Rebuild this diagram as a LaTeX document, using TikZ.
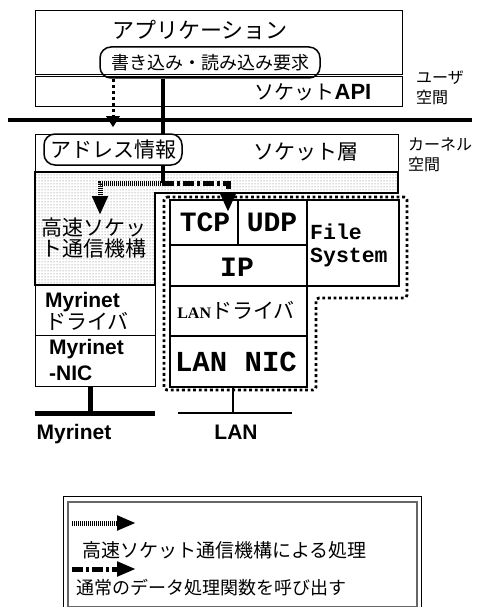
\documentclass[tikz,border=0pt]{standalone}
\usepackage{fontspec}
\setmainfont{Liberation Serif}
\newfontfamily\jp{Noto Sans CJK JP}
\newfontfamily\lsans{Liberation Sans}
\newfontfamily\lmono{Liberation Mono}
\usetikzlibrary{arrows.meta,patterns}
\newcommand\myfs[1]{\fontsize{#1}{#1}\selectfont}
\begin{document}
\begin{tikzpicture}[x=1pt,y=-1pt,
  box/.style={draw, line width=1.2pt, inner sep=0pt, anchor=north west, fill=white},
  sbox/.style={draw, line width=1.8pt, inner sep=0pt, anchor=north west},
  rbox/.style={draw, line width=1.5pt, rounded corners=11pt, inner sep=0pt},
  jtext/.style={font=\jp\myfs{21}, inner sep=0pt},
  sqarrow/.style={line width=3pt, dash pattern=on 3pt off 3pt, -{Triangle[length=11pt,width=13pt]}},
  tickarrow/.style={line width=5pt, dash pattern=on 1pt off 1pt, -{Triangle[length=19pt,width=15pt]}},
  dcarrow/.style={line width=5pt, dash pattern=on 11pt off 3pt on 3pt off 3pt, -{Triangle[length=19pt,width=15pt]}},
]
\useasboundingbox (0,0) rectangle (479,607);

% user space
\node[box, minimum width=367pt, minimum height=96pt] (app) at (35,10) {};
\node[jtext, font=\jp\myfs{22}] (apptxt) at (200,30) {アプリケーション};
\draw[line width=0.9pt, double distance=1.8pt] (app.west |- 0,75.5) -- (app.east |- 0,75.5);
\node[jtext, font=\jp\myfs{20}] (api) at (313,92) {ソケット{\lsans\bfseries\myfs{22}API}};
\node[rbox, minimum width=220pt, minimum height=31pt, font=\jp\myfs{18}] (req) at (210,62.5) {書き込み・読み込み要求};
\node[jtext, align=left, anchor=west, font=\jp\fontsize{16}{20}\selectfont] (user) at (416,88) {ユーザ\\空間};

% separator
\coordinate (sepL) at (8,120);
\coordinate (sepR) at (472,120);
\draw[line width=4pt] (sepL) -- (sepR);

% kernel
\node[box, minimum width=363pt, minimum height=38pt] (kern) at (35,134) {};
\node[jtext] (socklayer) at (306,152) {ソケット層};
\node[jtext, align=left, anchor=west, font=\jp\fontsize{16}{20}\selectfont] (kspace) at (408,155) {カーネル\\空間};

\draw[line width=1.2pt, pattern=dots, pattern color=black!60]
  (35,172) -- (398,172) -- (398,193) -- (155,193) -- (155,285) -- (35,285) -- cycle;
\node[jtext, align=center] (fast) at (94,238) {高速ソケッ\\ト通信機構};

% main call line
\coordinate (split) at (163,183);
\draw[line width=4pt] (req.south -| split) -- (split);
\node[rbox, fill=white, minimum width=138pt, minimum height=31pt, font=\jp\myfs{21}] (addr) at (113,149.5) {アドレス情報};

% right stack
\node[sbox, minimum width=68pt, minimum height=45pt] (tcp) at (169,199) {};
\node[sbox, minimum width=69pt, minimum height=45pt] (udp) at (237,199) {};
\node[sbox, minimum width=92pt, minimum height=86pt] (fs) at (306,199) {};
\node[sbox, minimum width=137pt, minimum height=41pt] (ip) at (169,244) {};
\node[sbox, minimum width=137pt, minimum height=50pt] (lan) at (169,285) {};
\node[sbox, minimum width=137pt, minimum height=51pt] (nic) at (169,335) {};
\node[inner sep=0pt, font=\lmono\bfseries\myfs{28}] (tcpt) at (205,222) {TCP};
\node[inner sep=0pt, font=\lmono\bfseries\myfs{28}] (udpt) at (272,222) {UDP};
\node[inner sep=0pt, font=\lmono\bfseries\myfs{28}] (ipt) at (237,267) {IP};
\node[inner sep=0pt, font=\lmono\bfseries\fontsize{21.5}{23}\selectfont, align=left, anchor=west] (fst) at (310,245) {File\\System};
\node[inner sep=0pt] (lant) at (236,310) {{\bfseries\myfs{16}LAN}{\jp\myfs{21}ドライバ}};
\node[inner sep=0pt, font=\lmono\bfseries\myfs{29}] (nict) at (236,362) {LAN NIC};

% myrinet column
\node[sbox, line width=1.4pt, minimum width=120pt, minimum height=50pt] (mdrv) at (35,285) {};
\node[sbox, line width=1.4pt, minimum width=120pt, minimum height=51pt] (mnic) at (35,335) {};
\node[inner sep=0pt, align=left, anchor=west, font=\fontsize{21}{22}\selectfont] (mdrvt) at (45,311)
  {{\lsans\bfseries Myrinet}\\{\jp ドライバ}};
\node[inner sep=0pt, align=left, anchor=west, font=\lsans\bfseries\fontsize{21}{26}\selectfont] (mnict) at (49,360)
  {Myrinet\\-NIC};

% dotted outline of normal path
\draw[line width=2.8pt, dash pattern=on 2.8pt off 2.8pt, rounded corners=3pt]
  (164,197) -- (407,197) -- (407,298) -- (316,298) -- (316,390) -- (164,390) -- cycle;

% networks
\coordinate (mbus) at (90,413);
\coordinate (mbusL) at (35,413);
\coordinate (mbusR) at (155,413);
\draw[line width=5pt] (mnic.south -| mbus) -- (mbus);
\draw[line width=5pt] (mbusL) -- (mbusR);
\coordinate (lbus) at (233,413);
\coordinate (lbusL) at (178,413);
\coordinate (lbusR) at (292,413);
\draw[line width=2.5pt] (nic.south -| lbus) -- (lbus);
\draw[line width=2.5pt] (lbusL) -- (lbusR);
\node[inner sep=0pt, font=\lsans\bfseries\myfs{21}] (mlabel) at (74,434) {Myrinet};
\node[inner sep=0pt, font=\lsans\bfseries\myfs{21}] (llabel) at (236,432) {LAN};

% arrows
\draw[sqarrow] (req.south -| addr.north) -- ([yshift=6pt]addr.north);
\coordinate (fastin) at (100,215);
\coordinate (tcpin) at (228,212);
\draw[tickarrow] (split) -| (fastin);
\draw[dcarrow] (split) -| (tcpin);

% legend
\node[draw, line width=0.8pt, inner sep=0pt, anchor=north west, minimum width=358pt, minimum height=116pt] (legout) at (63,496) {};
\node[draw=black!60, line width=1.5pt, inner sep=0pt, anchor=north west, minimum width=349pt, minimum height=105pt] (leg) at (67,501) {};
\coordinate (l1s) at (72,523);
\coordinate (l1e) at (136,523);
\coordinate (l2s) at (72,569);
\coordinate (l2e) at (136,569);
\draw[tickarrow, -{Triangle[length=19pt,width=14pt]}] (l1s) -- (l1e);
\draw[dcarrow, -{Triangle[length=19pt,width=14pt]}] (l2s) -- (l2e);
\node[jtext, anchor=west, font=\jp\myfs{19}] (leg1) at (82,550) {高速ソケット通信機構による処理};
\node[jtext, anchor=west, font=\jp\myfs{18}] (leg2) at (76,588) {通常のデータ処理関数を呼び出す};
\end{tikzpicture}
\end{document}
